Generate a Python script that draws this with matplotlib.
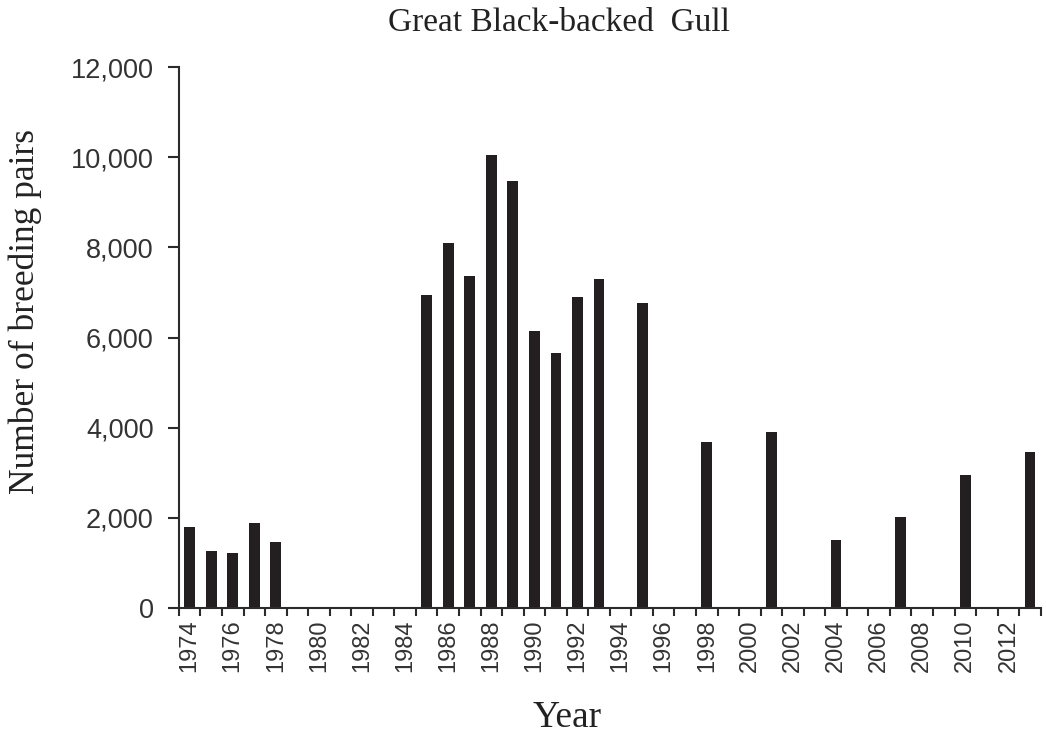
import numpy as np
import matplotlib
matplotlib.use("Agg")
import matplotlib.pyplot as plt
from matplotlib.ticker import FuncFormatter, FixedLocator

years = list(range(1974, 2014))
pairs = [1800, 1270, 1230, 1880, 1470, 0, 0, 0, 0, 0,
         0, 6950, 8090, 7370, 10060, 9470, 6140, 5660, 6900, 7290,
         0, 6770, 0, 0, 3680, 0, 0, 3900, 0, 0,
         1520, 0, 0, 2010, 0, 0, 2940, 0, 0, 3450]
ytick_vals = [0, 2000, 4000, 6000, 8000, 10000, 12000]

barcol = '#231f20'
axcol = '#2b2b2b'

fig = plt.figure(figsize=(10.46, 7.37), dpi=100)
ax = fig.add_axes([0.171, 0.175, 0.824, 0.734])

x = np.arange(len(years))
ax.bar(x, pairs, width=0.5, color=barcol)

ax.set_xlim(-0.5, len(years) - 0.5)
ax.set_ylim(0, 12000)

# labels at even years, tick marks at category boundaries
lab_idx = [i for i, y in enumerate(years) if y % 2 == 0]
ax.set_xticks(lab_idx)
ax.set_xticklabels([str(years[i]) for i in lab_idx], rotation=90,
                   fontfamily='Liberation Sans', fontsize=17, color='#333333')
ax.xaxis.set_minor_locator(FixedLocator(np.arange(-0.5, len(years), 1.0)))
ax.tick_params(axis='x', which='major', length=0, pad=8)
ax.tick_params(axis='x', which='minor', length=6, width=1.5, color=axcol, direction='out')

ax.set_yticks(ytick_vals)
ax.yaxis.set_major_formatter(FuncFormatter(lambda v, p: f"{int(v):,}"))
ax.tick_params(axis='y', length=8, width=1.5, color=axcol, direction='out', pad=10)
for t in ax.get_yticklabels():
    t.set_fontfamily('Liberation Sans')
    t.set_fontsize(19.5)
    t.set_color('#333333')

for s in ['top', 'right']:
    ax.spines[s].set_visible(False)
for s in ['left', 'bottom']:
    ax.spines[s].set_color(axcol)
    ax.spines[s].set_linewidth(1.5)

fig.text(0.534, 0.969, "Great Black-backed  Gull", ha='center', va='center',
         fontfamily='Liberation Serif', fontsize=24, color='#222222')
fig.text(0.024, 0.578, "Number of breeding pairs", rotation=90, ha='center', va='center',
         fontfamily='Liberation Serif', fontsize=25.5, color='#222222')
fig.text(0.542, 0.026, "Year", ha='center', va='center',
         fontfamily='Liberation Serif', fontsize=27, color='#222222')

fig.savefig("out.png", dpi=100)
